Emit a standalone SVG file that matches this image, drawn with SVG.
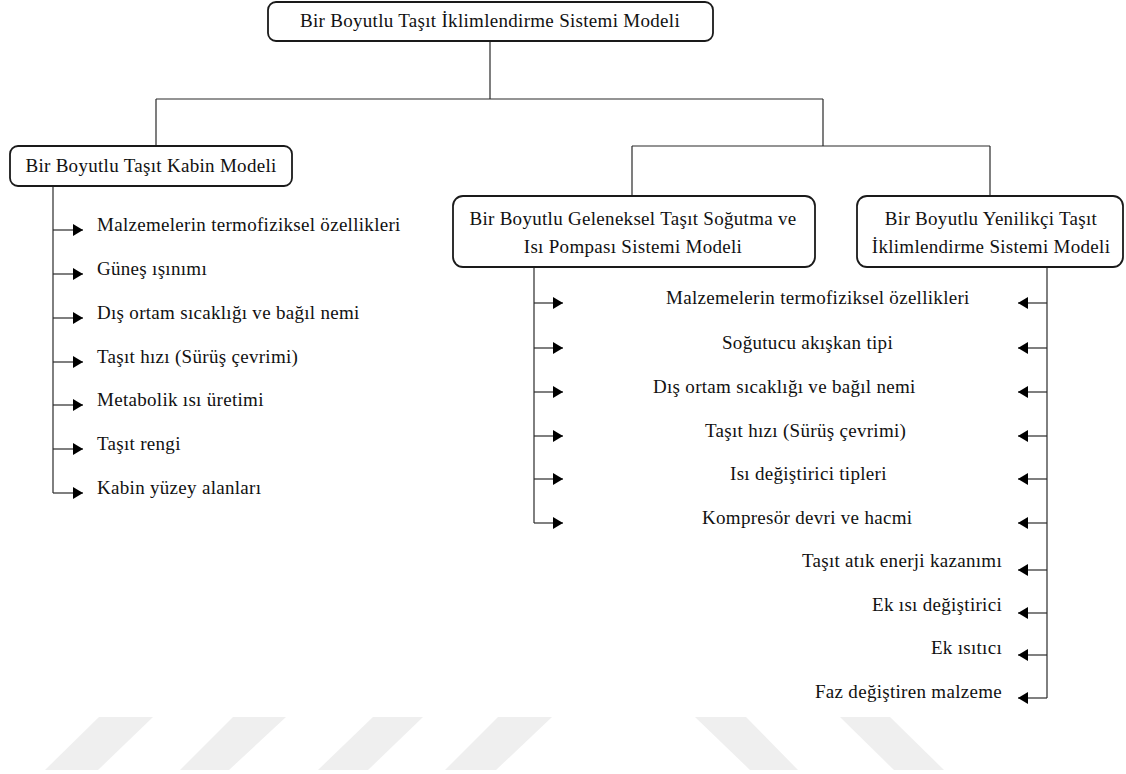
<svg xmlns="http://www.w3.org/2000/svg" width="1126" height="774" viewBox="0 0 1126 774">
<style>
.box{fill:#fff;stroke:#1a1a1a;stroke-width:1.8}
.ln{fill:none;stroke:#2a2a2a;stroke-width:1.2}
.arr{fill:none;stroke:#2a2a2a;stroke-width:1.2;marker-end:url(#ah)}
text{font-family:"Liberation Serif","Times New Roman",serif;font-size:19px;letter-spacing:0.3px;fill:#111}
.c{text-anchor:middle}
.e{text-anchor:end}
.wm{fill:#efefef}
</style>
<defs>
<marker id="ah" markerUnits="userSpaceOnUse" markerWidth="11" markerHeight="13" refX="10" refY="6" orient="auto">
<path d="M0,0 L10,6 L0,12 z" fill="#000"/>
</marker>
</defs>
<g id="watermark">
<polygon class="wm" points="99,717 153,717 98,770 45,770"/>
<polygon class="wm" points="233,717 286,717 229,770 180,770"/>
<polygon class="wm" points="373,717 423,717 368,770 318,770"/>
<polygon class="wm" points="498,717 552,717 496,770 445,770"/>
<polygon class="wm" points="695,717 746,717 798,770 750,770"/>
<polygon class="wm" points="840,717 890,717 944,770 894,770"/>
</g>
<g id="connectors">
<path class="ln" d="M490,41 V99 M156,99 H823 M156,99 V146 M823,99 V146 M632,146 H990 M632,146 V196 M990,146 V196"/>
<path class="ln" d="M53,186 V493"/>
<path class="arr" d="M53,230 H83"/>
<path class="arr" d="M53,274 H83"/>
<path class="arr" d="M53,318 H83"/>
<path class="arr" d="M53,362 H83"/>
<path class="arr" d="M53,405 H83"/>
<path class="arr" d="M53,449 H83"/>
<path class="arr" d="M53,493 H83"/>
<path class="ln" d="M534,267 V523"/>
<path class="arr" d="M534,303 H563"/>
<path class="arr" d="M534,348 H563"/>
<path class="arr" d="M534,392 H563"/>
<path class="arr" d="M534,436 H563"/>
<path class="arr" d="M534,479 H563"/>
<path class="arr" d="M534,523 H563"/>
<path class="ln" d="M1047,267 V698"/>
<path class="arr" d="M1047,303 H1018"/>
<path class="arr" d="M1047,348 H1018"/>
<path class="arr" d="M1047,392 H1018"/>
<path class="arr" d="M1047,436 H1018"/>
<path class="arr" d="M1047,479 H1018"/>
<path class="arr" d="M1047,523 H1018"/>
<path class="arr" d="M1047,570 H1018"/>
<path class="arr" d="M1047,613 H1018"/>
<path class="arr" d="M1047,655 H1018"/>
<path class="arr" d="M1047,698 H1018"/>
</g>
<g id="root">
<rect class="box" x="268" y="2" width="445" height="39" rx="8"/>
<text class="c" x="490" y="27">Bir Boyutlu Taşıt İklimlendirme Sistemi Modeli</text>
</g>
<g id="kabin">
<rect class="box" x="10" y="146" width="282" height="40" rx="8"/>
<text class="c" x="151" y="172">Bir Boyutlu Taşıt Kabin Modeli</text>
</g>
<g id="geleneksel">
<rect class="box" x="453" y="196" width="362" height="71" rx="10"/>
<text class="c" x="633" y="225">Bir Boyutlu Geleneksel Taşıt Soğutma ve</text>
<text class="c" x="633" y="253">Isı Pompası Sistemi Modeli</text>
</g>
<g id="yenilikci">
<rect class="box" x="857" y="196" width="266" height="71" rx="10"/>
<text class="c" x="991" y="225">Bir Boyutlu Yenilikçi Taşıt</text>
<text class="c" x="991" y="253">İklimlendirme Sistemi Modeli</text>
</g>
<g id="kabin-items">
<text x="97" y="231">Malzemelerin termofiziksel özellikleri</text>
<text x="97" y="275">Güneş ışınımı</text>
<text x="97" y="319">Dış ortam sıcaklığı ve bağıl nemi</text>
<text x="97" y="363">Taşıt hızı (Sürüş çevrimi)</text>
<text x="97" y="406">Metabolik ısı üretimi</text>
<text x="97" y="450">Taşıt rengi</text>
<text x="97" y="494">Kabin yüzey alanları</text>
</g>
<g id="shared-items">
<text x="666" y="304">Malzemelerin termofiziksel özellikleri</text>
<text x="722" y="349">Soğutucu akışkan tipi</text>
<text x="653" y="393">Dış ortam sıcaklığı ve bağıl nemi</text>
<text x="705" y="437">Taşıt hızı (Sürüş çevrimi)</text>
<text x="730" y="480">Isı değiştirici tipleri</text>
<text x="702" y="524">Kompresör devri ve hacmi</text>
</g>
<g id="yenilikci-items">
<text class="e" x="1002" y="567">Taşıt atık enerji kazanımı</text>
<text class="e" x="1002" y="611">Ek ısı değiştirici</text>
<text class="e" x="1002" y="654">Ek ısıtıcı</text>
<text class="e" x="1002" y="698">Faz değiştiren malzeme</text>
</g>
</svg>
